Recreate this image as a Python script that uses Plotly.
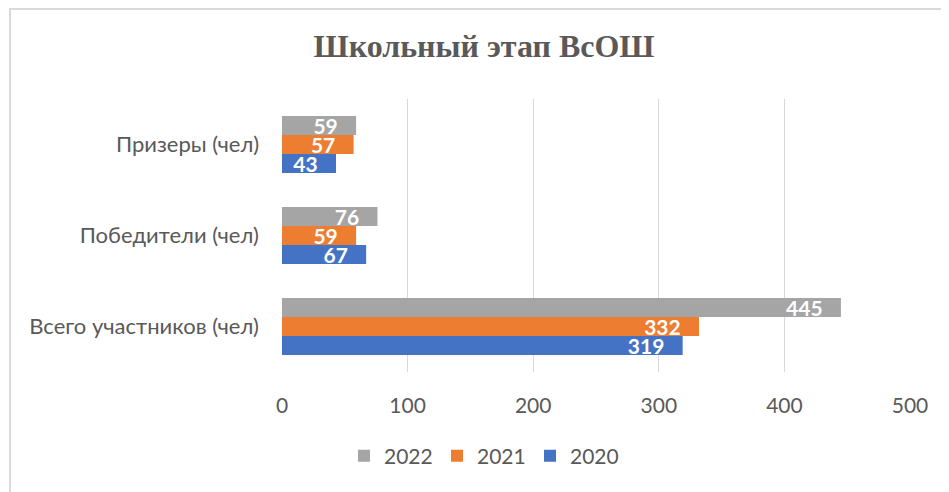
import plotly.graph_objects as go

categories = ["Всего участников (чел)", "Победители (чел)", "Призеры (чел)"]
years = ["2020", "2021", "2022"]
values_2020 = [319, 67, 43]
values_2021 = [332, 59, 57]
values_2022 = [445, 76, 59]
colors = ["#4472C4", "#ED7D31", "#A5A5A5"]
x_ticks = [0, 100, 200, 300, 400, 500]

# page has an 8px body margin, so the figure is placed at (8, 8)
OFF = 8
W, H = 949 - OFF, 492 - OFF
L, R, T, B = 282 - OFF, 949 - 910, 99 - OFF, 492 - 372
pw, ph = W - L - R, H - T - B

def px_x(x):  # reference page pixel -> paper
    return (x - OFF - L) / pw

def px_y(y):
    return (H - B - (y - OFF)) / ph

PAD = "\u00a0\u00a0\u00a0"  # inner padding of the "inside end" labels

fig = go.Figure()
for name, vals, col in zip(years, [values_2020, values_2021, values_2022], colors):
    fig.add_trace(go.Bar(
        y=categories, x=vals, name=name, orientation="h",
        marker=dict(color=col, line=dict(width=0)),
        text=[str(v) + PAD for v in vals], textposition="inside", insidetextanchor="end",
        textangle=0,
        textfont=dict(family="Lato", size=21, color="white", weight="bold"),
        constraintext="none", cliponaxis=False, hoverinfo="x+name",
    ))

fig.update_layout(
    width=W, height=H,
    margin=dict(l=L, r=R, t=T, b=B, autoexpand=False),
    paper_bgcolor="white", plot_bgcolor="white",
    barmode="group", bargap=0.374, bargroupgap=0,
    title=dict(text="<b>Школьный этап ВсОШ</b>", x=(484 - OFF) / W, xanchor="center",
               y=(H - (46 - OFF)) / H, yanchor="middle",
               font=dict(family="Liberation Serif", size=32, color="#595959")),
    xaxis=dict(range=[0, 500], tickvals=x_ticks, showgrid=True, gridcolor="#D9D9D9", gridwidth=1,
               zeroline=False, showline=False, ticks="",
               tickfont=dict(family="Lato", size=21, color="#595959"), ticklabelstandoff=19),
    yaxis=dict(categoryorder="array", categoryarray=categories, showgrid=False, zeroline=False,
               showline=False, ticks="", tickfont=dict(family="Lato", size=22, color="#595959"),
               ticklabelstandoff=22),
    legend=dict(orientation="h", traceorder="reversed", x=px_x(344), xanchor="left",
                y=px_y(456), yanchor="middle", entrywidth=48, entrywidthmode="pixels",
                font=dict(family="Lato", size=21, color="#595959")),
    shapes=[dict(type="rect", xref="paper", yref="paper",
                 x0=px_x(10), x1=px_x(970), y0=px_y(510), y1=px_y(9),
                 line=dict(color="#D9D9D9", width=2), fillcolor="rgba(0,0,0,0)", layer="below")],
    showlegend=True,
)

fig.write_html("out.html")
